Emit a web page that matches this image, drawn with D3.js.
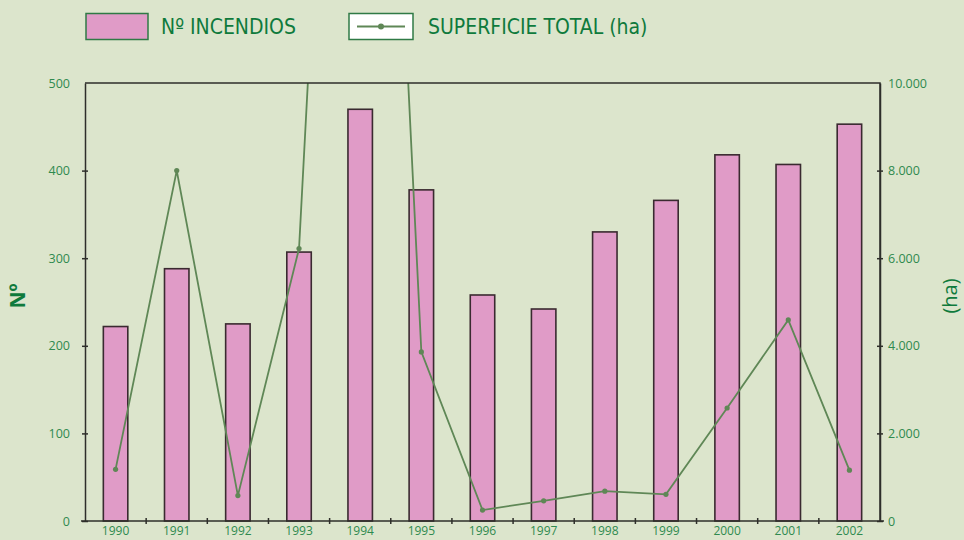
<!DOCTYPE html>
<html>
<head>
<meta charset="utf-8">
<script src="https://cdn.jsdelivr.net/npm/d3@7"></script>
<style>
  body { margin: 0; background: #dce5cc; }
  svg { display: block; }
  .tick text { font-family: "Open Sans", sans-serif; font-size: 12.5px; fill: #2f8a4f; }
  .xaxis .tick text { font-size: 12px; }
</style>
</head>
<body>
<svg id="chart" width="964" height="540"></svg>
<script>
// data
var years     = ["1990","1991","1992","1993","1994","1995","1996","1997","1998","1999","2000","2001","2002"];
var incendios = [222, 288, 225, 307, 470, 378, 258, 242, 330, 366, 418, 407, 453];
var superficie = [1180, 8000, 580, 6220, 32500, 3860, 250, 460, 680, 610, 2580, 4590, 1160];
var leftTicks  = [0, 100, 200, 300, 400, 500];
var rightTicks = [0, 2000, 4000, 6000, 8000, 10000];

var	svg	= d3.select("#chart"),
	m	= {left: 85, right: 84, top: 83, bottom: 19},
	W	= 964 - m.left - m.right,
	H	= 540 - m.top - m.bottom,
	dkGreen	= "#0f7a3c",
	lineCol	= "#5f8756",
	frame	= "#2e2e2a";

var x  = d3.scaleBand().domain(years).range([0, W]),
	y  = d3.scaleLinear().domain([0, 500]).range([H, 0]),
	y2 = d3.scaleLinear().domain([0, 10000]).range([H, 0]),
	fmt = function(v) { return d3.format(",")(v).replace(/,/g, "."); };

var g = svg.append("g").attr("transform", "translate(" + m.left + "," + m.top + ")");

g.append("clipPath").attr("id", "clip")
	.append("rect").attr("width", W).attr("height", H);

// bars
var bw = x.bandwidth() * 0.4;
g.selectAll("rect.bar").data(incendios).enter().append("rect")
	.attr("class", "bar")
	.attr("x", function(d, i) { return x(years[i]) + (x.bandwidth() - bw) / 2; })
	.attr("y", function(d) { return y(d); })
	.attr("width", bw)
	.attr("height", function(d) { return H - y(d); })
	.attr("fill", "#e09bc7")
	.attr("stroke", "#3a2a30")
	.attr("stroke-width", 1.6);

// line (1994 runs off the top, clipped like the original)
var pts = superficie.map(function(v, i) { return [x(years[i]) + x.bandwidth() / 2, y2(v)]; });
var lg = g.append("g").attr("clip-path", "url(#clip)");
lg.append("path")
	.attr("d", d3.line()(pts))
	.attr("fill", "none")
	.attr("stroke", lineCol)
	.attr("stroke-width", 1.8);
lg.selectAll("circle").data(pts).enter().append("circle")
	.attr("cx", function(d) { return d[0]; })
	.attr("cy", function(d) { return d[1]; })
	.attr("r", 2.6)
	.attr("fill", lineCol);

// frame
g.append("path")
	.attr("d", "M0,0H" + W + "V" + H)
	.attr("fill", "none").attr("stroke", frame).attr("stroke-width", 1.5);

function styleAxis(a) {
	a.select(".domain").attr("stroke", frame).attr("stroke-width", 1.5);
	a.selectAll(".tick line").attr("stroke", frame).attr("stroke-width", 1.5);
}

// left axis
g.append("g")
	.call(d3.axisLeft(y).tickValues(leftTicks).tickSizeInner(3).tickSizeOuter(0).tickPadding(12))
	.call(styleAxis)
	.call(function(a) {
		a.selectAll(".tick line").attr("x2", 3).attr("x1", -3);
		a.select(".tick:last-of-type line").remove();
	});

// right axis
g.append("g").attr("transform", "translate(" + W + ",0)")
	.call(d3.axisRight(y2).tickValues(rightTicks).tickFormat(fmt).tickSizeInner(3).tickSizeOuter(0).tickPadding(5))
	.call(styleAxis)
	.call(function(a) {
		a.selectAll(".tick line").attr("x1", -3).attr("x2", 3);
		a.select(".tick:last-of-type line").remove();
	});

// bottom axis: ticks at band boundaries, labels at centres
var xb = g.append("g").attr("class", "xaxis").attr("transform", "translate(0," + H + ")")
	.call(d3.axisBottom(x).tickSize(0).tickPadding(5))
	.call(styleAxis);
xb.select(".domain").attr("d", "M-4,0H" + (W + 4));
xb.selectAll("line.sep").data(years.slice(1)).enter().append("line")
	.attr("class", "sep")
	.attr("x1", function(d) { return x(d); })
	.attr("x2", function(d) { return x(d); })
	.attr("y1", -3).attr("y2", 3)
	.attr("stroke", frame).attr("stroke-width", 1.5);

// axis titles
svg.append("text")
	.attr("transform", "translate(25,296) rotate(-90)")
	.attr("text-anchor", "middle")
	.style("font-family", "'Open Sans', sans-serif").style("font-weight", "bold").style("font-size", "21px")
	.attr("fill", dkGreen)
	.text("Nº");
svg.append("text")
	.attr("transform", "translate(957,296) rotate(-90)")
	.attr("text-anchor", "middle")
	.style("font-family", "'Open Sans', sans-serif").style("font-size", "20px")
	.attr("fill", dkGreen)
	.text("(ha)");

// legend
var leg = svg.append("g");
leg.append("rect").attr("x", 86).attr("y", 13.5).attr("width", 62).attr("height", 26)
	.attr("fill", "#e09bc7").attr("stroke", "#2f7a45").attr("stroke-width", 1.5);
leg.append("text").attr("x", 161).attr("y", 34)
	.style("font-family", "'Liberation Sans Narrow', 'DejaVu Sans Condensed', sans-serif").style("font-size", "21px")
	.attr("fill", dkGreen).text("Nº INCENDIOS");
leg.append("rect").attr("x", 349).attr("y", 13.5).attr("width", 64).attr("height", 26)
	.attr("fill", "#ffffff").attr("stroke", "#2f7a45").attr("stroke-width", 1.5);
leg.append("line").attr("x1", 357).attr("x2", 405).attr("y1", 26.5).attr("y2", 26.5)
	.attr("stroke", lineCol).attr("stroke-width", 2);
leg.append("circle").attr("cx", 381).attr("cy", 26.5).attr("r", 3).attr("fill", lineCol);
leg.append("text").attr("x", 428).attr("y", 34)
	.style("font-family", "'Liberation Sans Narrow', 'DejaVu Sans Condensed', sans-serif").style("font-size", "21px")
	.attr("fill", dkGreen).text("SUPERFICIE TOTAL (ha)");
</script>
</body>
</html>
